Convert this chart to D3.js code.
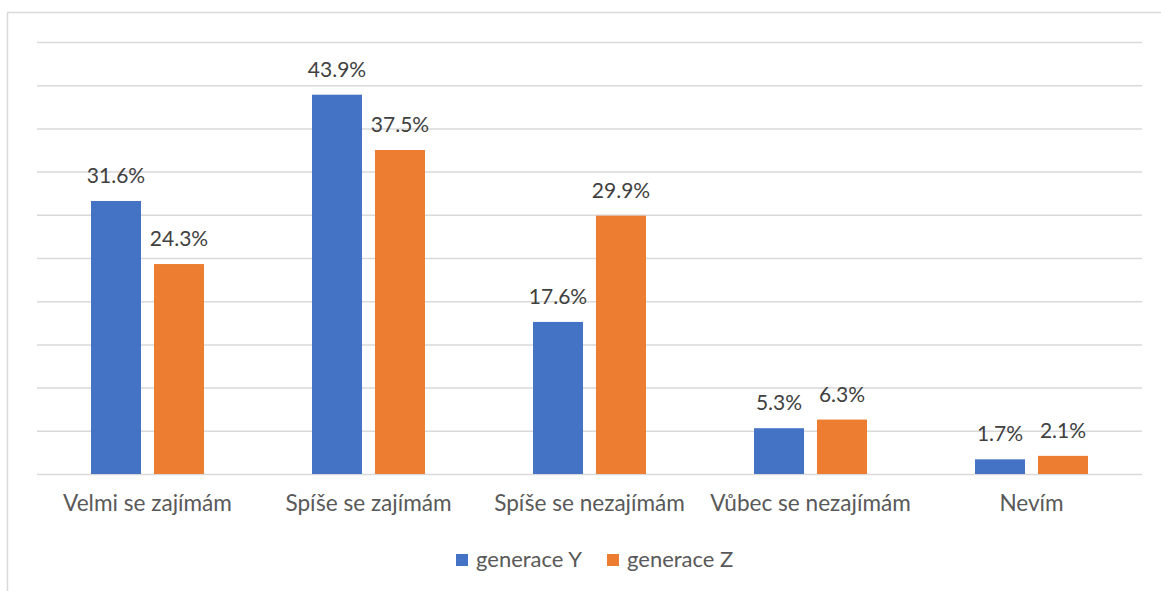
<!DOCTYPE html>
<html><head><meta charset="utf-8">
<script src="https://cdn.jsdelivr.net/npm/d3@7"></script>
<style>
html,body{margin:0;padding:0;background:#fff;}
svg{display:block;}
text{font-family:Lato,"Open Sans",sans-serif;}
</style></head>
<body>
<svg id="chart" width="1161" height="591"></svg>
<script>
const categories = ["Velmi se zajímám","Spíše se zajímám","Spíše se nezajímám","Vůbec se nezajímám","Nevím"];
const seriesNames = ["generace Y","generace Z"];
const genY = [31.6, 43.9, 17.6, 5.3, 1.7];
const genZ = [24.3, 37.5, 29.9, 6.3, 2.1];
const yTicks = [0,5,10,15,20,25,30,35,40,45,50];
const colors = ["#4472C4","#ED7D31"];

(function(){
const svg = d3.select("#chart");
svg.append("rect").attr("x",7.5).attr("y",12.5).attr("width",1170).attr("height",600)
  .attr("fill","none").attr("stroke","#D9D9D9").attr("stroke-width",1.5);

const pL=37, pR=1142, pT=42, pB=474;
const x0 = d3.scaleBand().domain(categories).range([pL,pR]).padding(0);
const bw = x0.bandwidth();
const x1 = d3.scaleBand().domain(seriesNames).range([bw/2-56.5, bw/2+56.5]).paddingInner(0.206);
const y = d3.scaleLinear().domain([0,50]).range([pB,pT]);

const grid = svg.append("g").attr("transform",`translate(${pL},0)`)
  .call(d3.axisLeft(y).tickValues(yTicks).tickSize(-(pR-pL)).tickFormat(""));
grid.select(".domain").remove();
grid.selectAll(".tick line").attr("stroke","#D9D9D9").attr("stroke-width",1.5);

const data = categories.map((c,i)=>({cat:c, vals:[genY[i],genZ[i]]}));
const groups = svg.selectAll("g.grp").data(data).enter().append("g").attr("class","grp")
  .attr("transform",d=>`translate(${x0(d.cat)},0)`);
groups.selectAll("rect").data(d=>d.vals.map((v,j)=>({s:seriesNames[j],v,j})))
  .enter().append("rect")
  .attr("x",d=>x1(d.s)).attr("width",x1.bandwidth())
  .attr("y",d=>y(d.v)).attr("height",d=>y(0)-y(d.v))
  .attr("fill",d=>colors[d.j]);
groups.selectAll("text.lbl").data(d=>d.vals.map((v,j)=>({s:seriesNames[j],v,j})))
  .enter().append("text").attr("class","lbl")
  .attr("x",d=>x1(d.s)+x1.bandwidth()/2).attr("y",d=>y(d.v)-18)
  .attr("text-anchor","middle").attr("font-size",21).attr("fill","#404040")
  .text(d=>d.v.toFixed(1)+"%");

svg.selectAll("text.cat").data(categories).enter().append("text").attr("class","cat")
  .attr("x",d=>x0(d)+bw/2).attr("y",511).attr("text-anchor","middle")
  .attr("font-size",22.6).attr("fill","#595959").text(d=>d);

const legX=[456,607];
const leg = svg.selectAll("g.leg").data(seriesNames).enter().append("g").attr("class","leg");
leg.append("rect").attr("x",(d,i)=>legX[i]).attr("y",554).attr("width",12).attr("height",12)
  .attr("fill",(d,i)=>colors[i]);
leg.append("text").attr("x",(d,i)=>legX[i]+20).attr("y",567).attr("font-size",22)
  .attr("fill","#595959").text(d=>d);
})();
</script>
</body></html>
